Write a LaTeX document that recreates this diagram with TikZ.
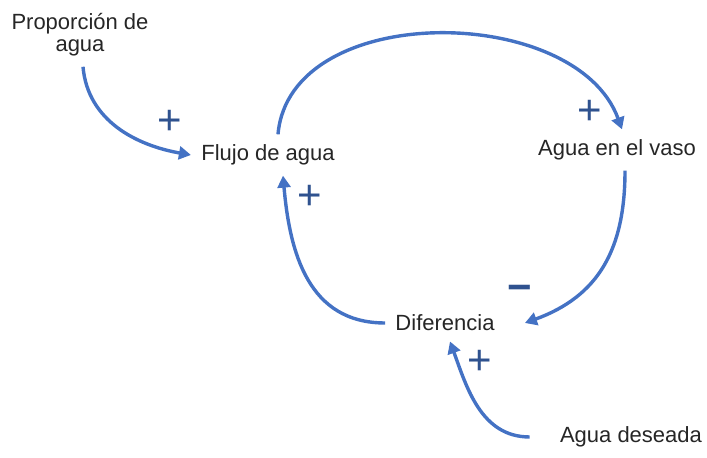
\documentclass[tikz,border=0pt]{standalone}
\usepackage{fontspec}
\setmainfont{Liberation Sans}
\usetikzlibrary{arrows.meta}
\definecolor{loopblue}{RGB}{68,114,196}
\definecolor{signblue}{RGB}{47,82,143}
\tikzset{
  var/.style={inner sep=5pt,font=\fontsize{11}{13}\selectfont,text=black!85,align=center},
  link/.style={loopblue,line width=1.7pt,-{Triangle[length=6pt,width=6.5pt]}},
  sgn/.style={signblue,font=\fontsize{21}{21}\selectfont,inner sep=0pt}
}
\begin{document}
\begin{tikzpicture}[x=0.5pt,y=0.5pt]
  \useasboundingbox (0,0) rectangle (707,458);
  % variables
  \node[var] (prop) at (80,423) {Proporción de\\[-2pt]agua};
  \node[var] (flujo) at (268,303) {Flujo de agua};
  \node[var] (vaso) at (617,308) {Agua en el vaso};
  \node[var] (dif) at (445,135) {Diferencia};
  \node[var] (des) at (631,21) {Agua deseada};
  % links
  \draw[link] ([xshift=1.5pt]prop.south) to[out=-85,in=170] (flujo.west);
  \draw[link] ([xshift=5pt]flujo.north) to[out=85,in=110] ([xshift=2.5pt]vaso.north);
  \draw[link] ([xshift=4pt]vaso.south) to[out=-90,in=20,looseness=1.1] ([xshift=10pt]dif.east);
  \draw[link] (dif.west) to[out=180,in=-85,looseness=1.1] ([xshift=7.5pt]flujo.south);
  \draw[link] ([xshift=-10pt]des.west) to[out=180,in=-70] ([xshift=2.5pt]dif.south);
  % polarities
  \node[sgn] (s1) at (170,336) {+};
  \node[sgn] (s2) at (590,346) {+};
  \node[sgn] (s3) at (310,261) {+};
  \node[sgn] (s4) at (480,96) {+};
  \node[sgn] (s5) at (520,165) {\textbf{−}};
\end{tikzpicture}
\end{document}
